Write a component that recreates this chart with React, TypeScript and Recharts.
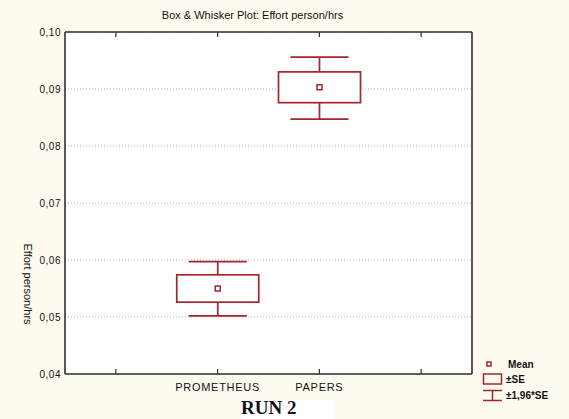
import React from "react";
import { ComposedChart, Bar, XAxis, YAxis, CartesianGrid } from "recharts";

const categories = ["", "PROMETHEUS", "PAPERS", " "];
const means: (number | null)[] = [null, 0.055, 0.0903, null];
const seLow: (number | null)[] = [null, 0.0526, 0.0876, null];
const seHigh: (number | null)[] = [null, 0.0574, 0.093, null];
const ciLow: (number | null)[] = [null, 0.0502, 0.0847, null];
const ciHigh: (number | null)[] = [null, 0.0597, 0.0956, null];
const yTicks = [0.04, 0.05, 0.06, 0.07, 0.08, 0.09, 0.1];

const titleText = "Box & Whisker Plot: Effort person/hrs";
const yLabelText = "Effort person/hrs";
const xTitleText = "RUN 2";
const legendLabels = ["Mean", "\u00b1SE", "\u00b11,96*SE"];

const RED = "#a3262c";
const AXIS = "#303030";
const FONT = "'Liberation Sans Narrow', 'Liberation Sans', Arial, sans-serif";

const data = categories.map((name, i) => ({
  name,
  range: ciLow[i] == null ? null : [ciLow[i], ciHigh[i]],
  mean: means[i],
  seLow: seLow[i],
  seHigh: seHigh[i],
  ciLow: ciLow[i],
  ciHigh: ciHigh[i],
}));

const BoxShape = (props: any) => {
  const { x, y, width, height, payload } = props;
  if (!payload || payload.mean == null || !height) return null;
  const top = Math.min(y, y + height);
  const h = Math.abs(height);
  const pxPer = h / (payload.ciHigh - payload.ciLow);
  const py = (v: number) => top + (payload.ciHigh - v) * pxPer;
  const cx = x + width / 2;
  const capHalf = width * 0.354;
  const yCiH = py(payload.ciHigh);
  const yCiL = py(payload.ciLow);
  const ySeH = py(payload.seHigh);
  const ySeL = py(payload.seLow);
  const yM = py(payload.mean);
  return (
    <g stroke={RED} strokeWidth={1.7} fill="none">
      <line x1={cx - capHalf} x2={cx + capHalf} y1={yCiH} y2={yCiH} />
      <line x1={cx - capHalf} x2={cx + capHalf} y1={yCiL} y2={yCiL} />
      <line x1={cx} x2={cx} y1={yCiH} y2={ySeH} />
      <line x1={cx} x2={cx} y1={ySeL} y2={yCiL} />
      <rect x={x} y={ySeH} width={width} height={ySeL - ySeH} fill="#fff" />
      <rect x={cx - 2.5} y={yM - 2.5} width={5} height={5} fill="#fff" strokeWidth={1.5} />
    </g>
  );
};

const fmt = (v: number) => v.toFixed(2).replace(".", ",");

export default function App() {
  return (
    <div
      style={{
        position: "absolute",
        left: 0,
        top: 0,
        width: 569,
        height: 419,
        background: "#fdfbf0",
        overflow: "hidden",
      }}
    >
      <ComposedChart
        width={569}
        height={419}
        data={data}
        margin={{ top: 31, right: 96, bottom: 15, left: 0 }}
      >
        <CartesianGrid
          xAxisId="bottom"
          yAxisId="left"
          vertical={false}
          fill="#ffffff"
          stroke="#b0b0b0"
          strokeDasharray="1 2"
        />
        <XAxis
          xAxisId="bottom"
          dataKey="name"
          orientation="bottom"
          height={30}
          interval={0}
          axisLine={{ stroke: AXIS, strokeWidth: 1.6 }}
          tickLine={{ stroke: AXIS, strokeWidth: 1.2 }}
          tickSize={-5}
          tickMargin={14}
          tick={{ fontSize: 11, fill: "#111", fontFamily: FONT, letterSpacing: 0.7 }}
        />
        <XAxis
          xAxisId="top"
          dataKey="name"
          orientation="top"
          height={1}
          interval={0}
          axisLine={{ stroke: AXIS, strokeWidth: 1.6 }}
          tickLine={{ stroke: AXIS, strokeWidth: 1.2 }}
          tickSize={-5}
          tickFormatter={() => ""}
        />
        <YAxis
          yAxisId="left"
          width={65}
          domain={[0.04, 0.1]}
          ticks={yTicks}
          type="number"
          allowDataOverflow
          tickFormatter={fmt}
          axisLine={{ stroke: AXIS, strokeWidth: 1.6 }}
          tickLine={false}
          tickSize={0}
          tickMargin={4}
          tick={{ fontSize: 10, fill: "#111", fontFamily: FONT, letterSpacing: 0.5 }}
        />
        <YAxis
          yAxisId="right"
          orientation="right"
          width={1}
          domain={[0.04, 0.1]}
          type="number"
          tick={false}
          tickLine={false}
          axisLine={{ stroke: AXIS, strokeWidth: 1.6 }}
        />
        <Bar
          xAxisId="bottom"
          yAxisId="left"
          dataKey="range"
          barSize={82}
          shape={<BoxShape />}
          isAnimationActive={false}
        />
      </ComposedChart>

      <div
        style={{
          position: "absolute",
          left: 0,
          width: 505,
          top: 9,
          textAlign: "center",
          fontFamily: FONT,
          fontSize: 11,
          color: "#111",
          whiteSpace: "nowrap",
        }}
      >
        {titleText}
      </div>

      <div
        style={{
          position: "absolute",
          left: 28,
          top: 284,
          transform: "translate(-50%, -50%) rotate(90deg)",
          fontFamily: FONT,
          fontSize: 11,
          color: "#111",
          whiteSpace: "nowrap",
        }}
      >
        {yLabelText}
      </div>

      <div
        style={{
          position: "absolute",
          left: 241,
          top: 400,
          width: 94,
          height: 19,
          background: "#ffffff",
        }}
      />
      <div
        style={{
          position: "absolute",
          left: 241,
          top: 397,
          fontFamily: "'Liberation Serif', 'Times New Roman', serif",
          fontWeight: "bold",
          fontSize: 19,
          color: "#111",
          whiteSpace: "nowrap",
        }}
      >
        {xTitleText}
      </div>

      <svg
        width={90}
        height={45}
        style={{ position: "absolute", left: 478, top: 358 }}
      >
        <g stroke={RED} strokeWidth={1.5} fill="none">
          <rect x={9} y={4} width={4} height={4} />
          <rect x={5.5} y={16} width={18} height={10} />
          <line x1={5} x2={24} y1={32.5} y2={32.5} />
          <line x1={5} x2={24} y1={42.5} y2={42.5} />
          <line x1={14.5} x2={14.5} y1={32.5} y2={42.5} />
        </g>
        <g fontFamily={FONT} fontSize={10} fill="#111" fontWeight="bold">
          <text x={30} y={10}>{legendLabels[0]}</text>
          <text x={28} y={25}>{legendLabels[1]}</text>
          <text x={28} y={41}>{legendLabels[2]}</text>
        </g>
      </svg>
    </div>
  );
}
